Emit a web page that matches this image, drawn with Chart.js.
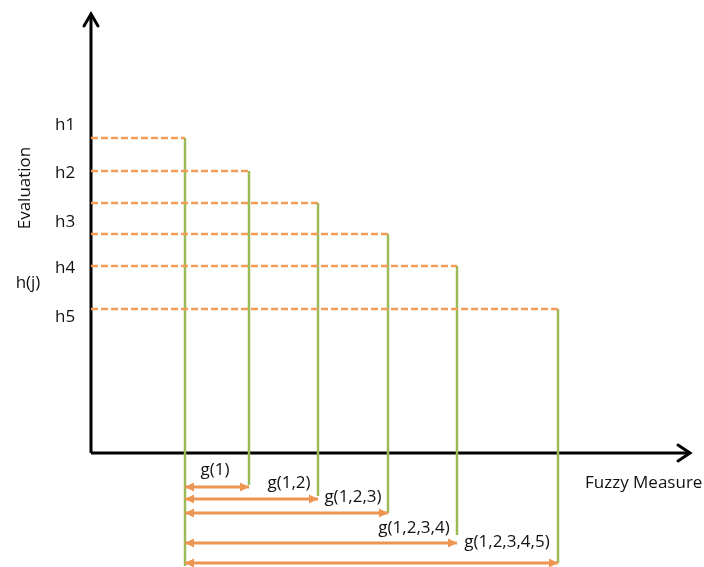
<!DOCTYPE html>
<html>
<head>
<meta charset="utf-8">
<script src="https://cdn.jsdelivr.net/npm/chart.js@4"></script>
<style>
html,body{margin:0;padding:0;background:#fff;overflow:hidden;}
canvas{display:block;}
</style>
</head>
<body>
<canvas id="c" width="704" height="567" style="width:704px;height:567px;"></canvas>
<script>
// ---- data ----
const hLabels = ['h1', 'h2', 'h3', 'h4', 'h5'];
const hValues = [3.15, 2.82, 2.50, 2.19, 1.87, 1.44];      // evaluation levels (dashed lines)
const gValues = [0.94, 1.58, 2.27, 2.97, 3.66, 4.67];      // cumulative fuzzy measures (green lines)
const greenBottom = [-1.13, -0.32, -0.43, -0.60, -0.82, -1.10];
const gLabels = ['g(1)', 'g(1,2)', 'g(1,2,3)', 'g(1,2,3,4)', 'g(1,2,3,4,5)'];
const arrowY = [-0.34, -0.46, -0.60, -0.90, -1.10];
const xMax = 5.99, yMax = 4.39, yMin = -1.14;

// ---- label layout (positions only) ----
const hLabelY = [3.28, 2.80, 2.31, 1.85, 1.36];
const gLabelPos = [[1.24, -0.17], [1.98, -0.30], [2.62, -0.44], [3.23, -0.75], [4.16, -0.89]];

const ORANGE_DASH = '#F39C57';
const ORANGE = '#EE9552';
const GREEN = '#9BBB59';
const FONT = '17px "Open Sans", sans-serif';

const datasets = [];
// axes
datasets.push({data: [{x: 0, y: 0}, {x: 0, y: yMax}], borderColor: '#000', borderWidth: 3, pointRadius: 0, order: 5});
datasets.push({data: [{x: 0, y: 0}, {x: xMax, y: 0}], borderColor: '#000', borderWidth: 3, pointRadius: 0, order: 5});
// green verticals
gValues.forEach((g, i) => {
  datasets.push({data: [{x: g, y: hValues[i]}, {x: g, y: greenBottom[i]}], borderColor: GREEN, borderWidth: 2.5, pointRadius: 0, order: 4});
});
// orange dashed horizontals
hValues.forEach((h, i) => {
  datasets.push({data: [{x: 0, y: h}, {x: gValues[i], y: h}], borderColor: ORANGE_DASH, borderWidth: 2.6, borderDash: [7, 3], pointRadius: 0, order: 3});
});
// double arrows
const arrowStart = datasets.length;
arrowY.forEach((ay, i) => {
  datasets.push({
    data: [{x: gValues[0], y: ay}, {x: gValues[i + 1], y: ay}],
    borderColor: ORANGE, backgroundColor: ORANGE, borderWidth: 3,
    pointRadius: 0, order: 2
  });
});
datasets.forEach(d => { d.clip = false; d.showLine = true; d.tension = 0; d.fill = false; });

const overlay = {
  id: 'overlay',
  afterDatasetsDraw(chart) {
    const {ctx, scales: {x, y}} = chart;
    ctx.save();
    // arrowheads on the double arrows (tips at the line ends)
    ctx.fillStyle = ORANGE;
    for (let i = arrowStart; i < datasets.length; i++) {
      const pts = chart.getDatasetMeta(i).data;
      const a = pts[0], b = pts[1];
      ctx.beginPath(); ctx.moveTo(a.x, a.y); ctx.lineTo(a.x + 9, a.y - 4.5); ctx.lineTo(a.x + 9, a.y + 4.5); ctx.closePath(); ctx.fill();
      ctx.beginPath(); ctx.moveTo(b.x, b.y); ctx.lineTo(b.x - 9, b.y - 4.5); ctx.lineTo(b.x - 9, b.y + 4.5); ctx.closePath(); ctx.fill();
    }
    // axis arrowheads
    ctx.strokeStyle = '#000';
    ctx.lineWidth = 3;
    ctx.lineCap = 'round';
    ctx.lineJoin = 'miter';
    const tx = x.getPixelForValue(xMax), ty = y.getPixelForValue(0);
    ctx.beginPath(); ctx.moveTo(tx - 12, ty - 8); ctx.lineTo(tx, ty); ctx.lineTo(tx - 12, ty + 8); ctx.stroke();
    const ux = x.getPixelForValue(0), uy = y.getPixelForValue(yMax);
    ctx.beginPath(); ctx.moveTo(ux - 7, uy + 12); ctx.lineTo(ux, uy); ctx.lineTo(ux + 7, uy + 12); ctx.stroke();

    ctx.fillStyle = '#111';
    ctx.font = FONT;
    ctx.textBaseline = 'middle';
    // h labels
    ctx.textAlign = 'left';
    hLabels.forEach((t, i) => ctx.fillText(t, 55, y.getPixelForValue(hLabelY[i])));
    // g labels
    ctx.textAlign = 'center';
    gLabels.forEach((t, i) => ctx.fillText(t, x.getPixelForValue(gLabelPos[i][0]), y.getPixelForValue(gLabelPos[i][1])));
    // axis titles
    ctx.textAlign = 'left';
    ctx.fillText('Fuzzy Measure', 585, y.getPixelForValue(-0.30));
    ctx.textAlign = 'center';
    ctx.fillText('h(j)', 28, 283);
    ctx.translate(25, 188);
    ctx.rotate(-Math.PI / 2);
    ctx.fillText('Evaluation', 0, 0);
    ctx.restore();
  }
};

new Chart(document.getElementById('c'), {
  type: 'scatter',
  data: {datasets},
  options: {
    responsive: false,
    maintainAspectRatio: false,
    animation: false,
    layout: {autoPadding: false, padding: {left: 91, right: 14, top: 14, bottom: 0}},
    plugins: {legend: {display: false}, tooltip: {enabled: false}},
    scales: {
      x: {type: 'linear', min: 0, max: xMax, display: false},
      y: {type: 'linear', min: yMin, max: yMax, display: false}
    }
  },
  plugins: [overlay]
});
</script>
</body>
</html>
